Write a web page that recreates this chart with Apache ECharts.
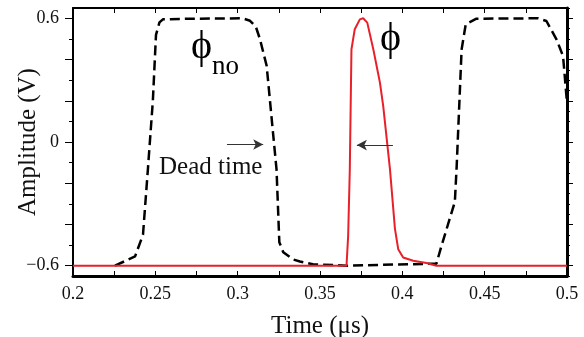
<!DOCTYPE html>
<html>
<head>
<meta charset="utf-8">
<script src="https://cdn.jsdelivr.net/npm/echarts@6/dist/echarts.min.js"></script>
<style>html,body{margin:0;padding:0;background:#fff}#c{width:584px;height:337px}</style>
</head>
<body>
<div id="c"></div>
<script>
// phi_no (black dashed)
var timeNo = [0.2255,0.2377,0.2425,0.2455,0.2485,0.2504,0.2525,0.2546,0.27,0.303,0.3075,0.311,0.3135,0.3176,0.322,0.3236,0.3253,0.3277,0.3337,0.3378,0.3457,0.366,0.4207,0.4237,0.4319,0.433,0.436,0.4385,0.445,0.4824,0.4875,0.4936,0.4976,0.5];
var ampNo  = [-0.6,-0.555,-0.45,-0.13,0.2,0.52,0.58,0.595,0.598,0.6,0.588,0.56,0.5,0.37,0.0,-0.133,-0.486,-0.535,-0.57,-0.58,-0.593,-0.6,-0.59,-0.506,-0.29,-0.118,0.449,0.571,0.598,0.6,0.587,0.498,0.417,0.19];
// phi (red)
var timePhi = [0.2,0.3661,0.3671,0.3681,0.3691,0.3711,0.3742,0.3762,0.3787,0.3824,0.3864,0.3884,0.3925,0.3955,0.3975,0.4005,0.4066,0.4147,0.4207,0.5];
var ampPhi  = [-0.6,-0.6,-0.455,-0.133,0.449,0.547,0.595,0.6,0.579,0.449,0.288,0.174,-0.133,-0.42,-0.52,-0.56,-0.576,-0.587,-0.6,-0.6];
// ticks and labels
var xTickValues = [0.2,0.225,0.25,0.275,0.3,0.325,0.35,0.375,0.4,0.425,0.45,0.475,0.5];
var xLabelValues = [0.2,0.25,0.3,0.35,0.4,0.45,0.5];
var yLabelValues = [-0.6,0,0.6];
var yMajorTicks = [-0.6,-0.4,-0.2,0,0.2,0.4,0.6];
var yMinorTicks = [-0.5,-0.3,-0.1,0.1,0.3,0.5];
var yRightTicks = [-0.65,-0.6,-0.55,-0.5,-0.45,-0.4,-0.35,-0.3,-0.25,-0.2,-0.15,-0.1,-0.05,0,0.05,0.1,0.15,0.2,0.25,0.3,0.35,0.4,0.45,0.5,0.55,0.6,0.65];
// arrows [x0, x1, y]
var arrowDead = [0.2935, 0.3155, -0.012];
var arrowPhi = [0.3943, 0.3724, -0.015];

function zip(a,b){return a.map(function(v,i){return [v,b[i]];});}
var FONT = 'Liberation Serif';
var chart = echarts.init(document.getElementById('c'));
var yMin = -0.65, yMax = 0.65;
function yAx(extra){
  var base = {type:'value',min:yMin,max:yMax,splitLine:{show:false},
    axisLine:{show:false},axisLabel:{show:false},axisTick:{show:false}};
  return Object.assign(base, extra);
}
chart.setOption({
  animation:false,
  backgroundColor:'#fff',
  grid:{left:73,right:17,top:8,bottom:61,containLabel:false,outerBoundsMode:'none'},
  xAxis:[
    {type:'value',position:'bottom',min:0.2,max:0.5,splitLine:{show:false},
     axisLine:{show:true,onZero:false,lineStyle:{color:'#000',width:3}},
     axisTick:{show:true,inside:true,length:5,customValues:xTickValues,lineStyle:{color:'#000',width:1}},
     axisLabel:{customValues:xLabelValues,color:'#111',fontFamily:FONT,fontSize:18,margin:9},
     name:'Time (\u03bcs)',nameLocation:'middle',nameGap:38,nameMoveOverlap:false,
     nameTextStyle:{color:'#111',fontFamily:FONT,fontSize:25}},
    {type:'value',position:'top',min:0.2,max:0.5,splitLine:{show:false},
     axisLine:{show:true,onZero:false,lineStyle:{color:'#000',width:2}},
     axisTick:{show:true,inside:true,length:5,customValues:xTickValues,lineStyle:{color:'#000',width:1}},
     axisLabel:{show:false}}
  ],
  yAxis:[
    yAx({position:'left',
     axisLine:{show:true,onZero:false,lineStyle:{color:'#000',width:2}},
     axisTick:{show:true,inside:false,length:8,customValues:yMajorTicks,lineStyle:{color:'#000',width:1}},
     axisLabel:{show:true,customValues:yLabelValues,color:'#111',fontFamily:FONT,fontSize:18,margin:14,
       formatter:function(v){return v<0?'\u2212'+Math.abs(v):String(v);}},
     name:'Amplitude (V)',nameLocation:'middle',nameGap:32,nameRotate:90,nameMoveOverlap:false,
     nameTextStyle:{color:'#111',fontFamily:FONT,fontSize:25}}),
    yAx({position:'left',
     axisTick:{show:true,inside:false,length:4,customValues:yMinorTicks,lineStyle:{color:'#000',width:1}}}),
    yAx({position:'right',
     axisLine:{show:true,onZero:false,lineStyle:{color:'#000',width:3}},
     axisTick:{show:true,inside:false,length:3,customValues:yRightTicks,lineStyle:{color:'#000',width:1}}}),
    yAx({position:'right',
     axisTick:{show:true,inside:false,length:6,customValues:yMajorTicks,lineStyle:{color:'#000',width:1}}})
  ],
  series:[
    {type:'line',name:'phi_no',data:zip(timeNo,ampNo),showSymbol:false,symbol:'none',
     lineStyle:{color:'#000',width:2.5,type:[10,5]},z:2,
     markLine:{silent:true,symbol:['none','arrow'],symbolSize:[8,10],label:{show:false},
       lineStyle:{color:'#333',width:1,type:'solid'},
       data:[
         [{coord:[arrowDead[0],arrowDead[2]]},{coord:[arrowDead[1],arrowDead[2]]}],
         [{coord:[arrowPhi[0],arrowPhi[2]]},{coord:[arrowPhi[1],arrowPhi[2]]}]
       ]}},
    {type:'line',name:'phi',data:zip(timePhi,ampPhi),showSymbol:false,symbol:'none',
     lineStyle:{color:'#e8202a',width:2},z:3}
  ],
  graphic:[
    {type:'text',left:191,top:27,style:{text:'\u03d5',font:'40px "Liberation Serif"',fill:'#000'}},
    {type:'text',left:212,top:53,style:{text:'no',font:'27px "Liberation Serif"',fill:'#000'}},
    {type:'text',left:380,top:19,style:{text:'\u03d5',font:'40px "Liberation Serif"',fill:'#000'}},
    {type:'text',left:159,top:155,style:{text:'Dead time',font:'25px "Liberation Serif"',fill:'#111'}}
  ]
});
</script>
</body>
</html>
